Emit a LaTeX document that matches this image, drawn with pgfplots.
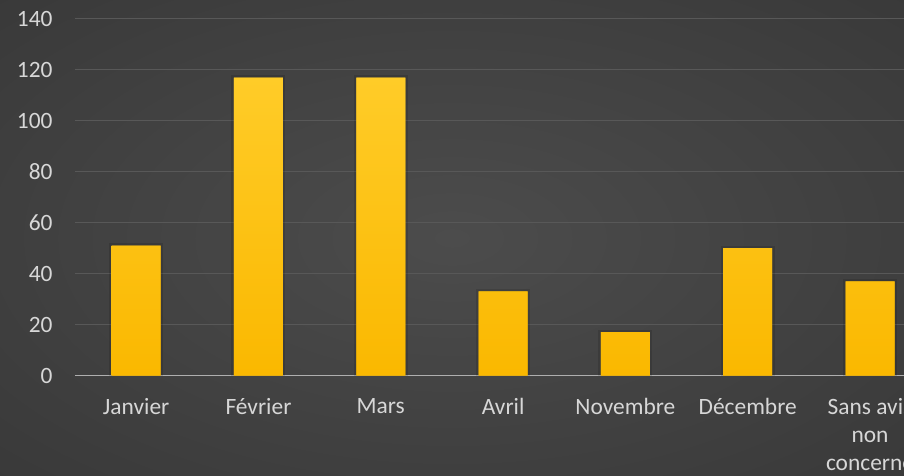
\documentclass[border=0pt]{standalone}
\usepackage{fontspec}
\setmainfont{Carlito}
\usepackage{pgfplots}
\pgfplotsset{compat=1.18}
\definecolor{bgin}{RGB}{76,76,76}
\definecolor{bgout}{RGB}{38,38,38}
\definecolor{bartop}{RGB}{255,204,40}
\definecolor{barbot}{RGB}{250,184,0}
\definecolor{gridc}{RGB}{88,88,88}
\definecolor{axisc}{RGB}{175,175,175}
\definecolor{labc}{RGB}{215,215,215}
\pgfdeclareradialshading{bgshade}{\pgfpoint{0bp}{0bp}}{color(0bp)=(bgin); color(72bp)=(bgout)}

\begin{document}
\begin{tikzpicture}
\useasboundingbox (-37.5pt,-50.25pt) rectangle (414.5pt,187.75pt);
\clip (-37.5pt,-50.25pt) rectangle (414.5pt,187.75pt);
\shade[shading=bgshade] (-37.5pt,-50.25pt) rectangle (414.5pt,187.75pt);
\begin{axis}[
    scale only axis, width=414.5pt, height=178.25pt,
    xmin=-0.5, xmax=6.278, ymin=0, ymax=140,
    enlargelimits=false,
    ytick={0,20,...,140},
    xtick=data,
    xticklabels={Janvier, Février, Mars, Avril, Novembre, Décembre, {Sans avis\\non\\concerné}},
    axis x line*=bottom, axis y line*=left,
    x axis line style={draw=axisc, line width=0.8pt, -},
    y axis line style={draw=none},
    major tick length=0pt,
    ymajorgrids, grid style={draw=gridc, line width=0.5pt},
    /pgf/number format/assume math mode=true,
    tick label style={font=\fontsize{11.7}{14}\selectfont, text=labc},
    yticklabel style={xshift=-7.7pt},
    xticklabel style={align=center, yshift=-8pt},
    bar width=24.5pt,
]
% faint dark halo round each bar
\addplot[ybar, draw=none, top color=bartop, bottom color=barbot,
    preaction={draw=black, draw opacity=0.12, line width=2.5pt}] coordinates {
    (0,51) (1,117) (2,117) (3,33) (4,17) (5,50) (6,37)
};
\end{axis}
\end{tikzpicture}
\end{document}
